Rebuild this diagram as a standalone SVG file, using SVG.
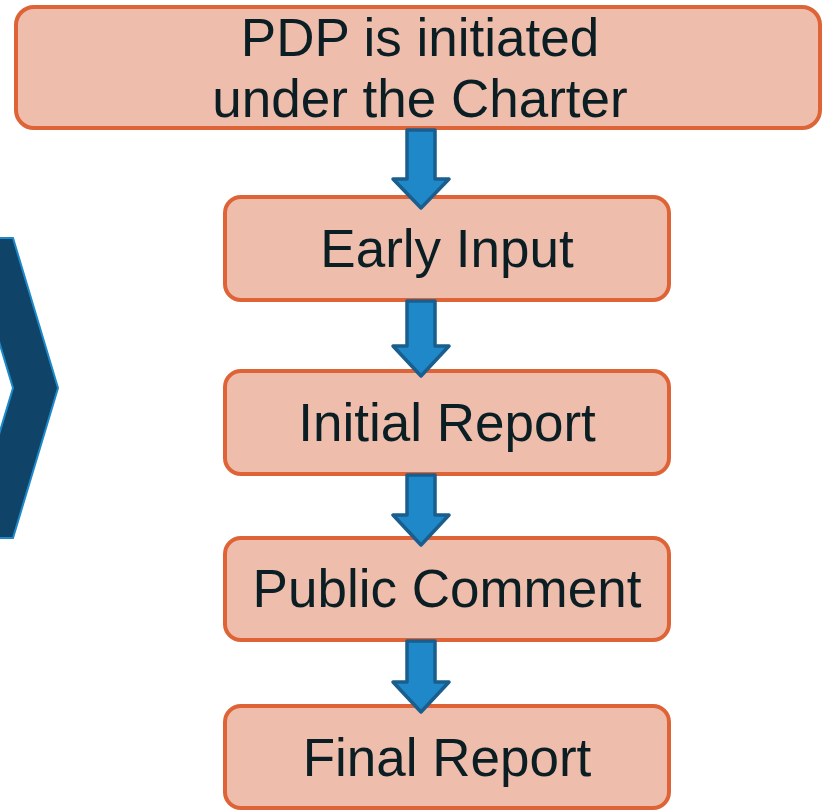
<svg xmlns="http://www.w3.org/2000/svg" width="827" height="811" viewBox="0 0 827 811">
<style>
.box{fill:#EFBDAB;stroke:#DE6337;stroke-width:4}
.lbl{font-family:"Liberation Sans",Arial,sans-serif;font-size:53px;fill:#0B1E24;text-anchor:middle}
.arr{fill:#1E88C8;stroke:#1A5E8E;stroke-width:3.5;stroke-linejoin:round}
</style>
<rect width="827" height="811" fill="#ffffff"/>
<g id="chevron">
<polygon points="-32,238 13,238 58,388 13,538 -32,538 13,388" fill="#0F4468" stroke="#1E88C8" stroke-width="2"/>
</g>
<g id="n1">
<rect class="box" x="16" y="7" width="804" height="121" rx="18"/>
<text class="lbl" x="420" y="56" font-size="54">PDP is initiated</text>
<text class="lbl" x="420" y="117" font-size="54">under the Charter</text>
</g>
<g id="n2">
<rect class="box" x="225" y="197" width="444" height="103" rx="16"/>
<text class="lbl" x="447" y="267">Early Input</text>
</g>
<g id="n3">
<rect class="box" x="225" y="371" width="444" height="103" rx="16"/>
<text class="lbl" x="447" y="441">Initial Report</text>
</g>
<g id="n4">
<rect class="box" x="225" y="538" width="444" height="102" rx="16"/>
<text class="lbl" x="447" y="607">Public Comment</text>
</g>
<g id="n5">
<rect class="box" x="225" y="706" width="444" height="102" rx="16"/>
<text class="lbl" x="447" y="776">Final Report</text>
</g>
<g id="connectors">
<polygon class="arr" points="407,130 435,130 435,179 449,179 421,208 393,179 407,179"/>
<polygon class="arr" points="407,301 435,301 435,346 449,346 421,376 393,346 407,346"/>
<polygon class="arr" points="407,475 435,475 435,515 449,515 421,545 393,515 407,515"/>
<polygon class="arr" points="407,641 435,641 435,682 449,682 421,712 393,682 407,682"/>
</g>
</svg>
